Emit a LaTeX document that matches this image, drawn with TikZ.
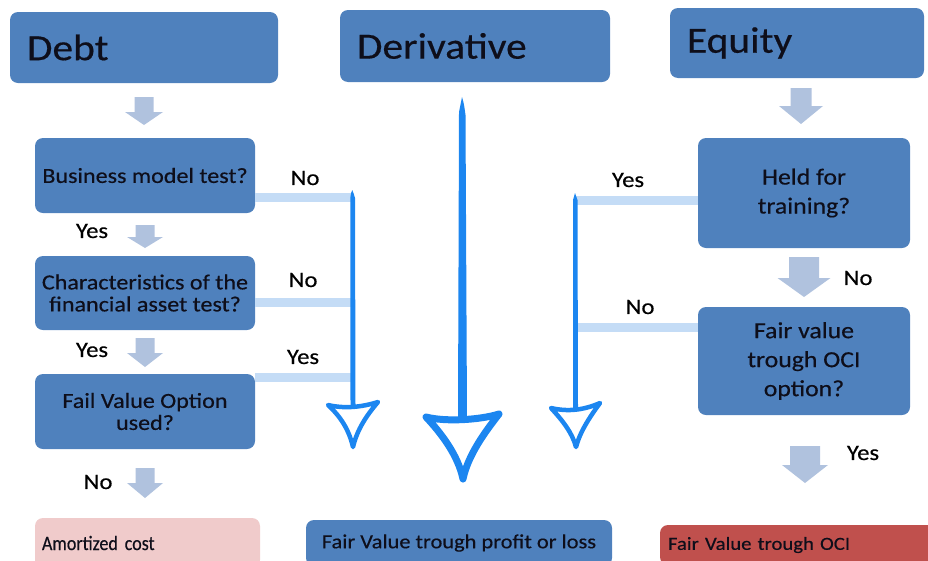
\documentclass[tikz,border=0pt]{standalone}
\usepackage{fontspec}
\setmainfont{Carlito}[FakeStretch=1.12,FakeBold=0.4]
\newfontfamily\narrowfont{Carlito}[FakeStretch=0.88,FakeBold=0.4]
\definecolor{boxblue}{HTML}{4F81BD}
\definecolor{boxtext}{HTML}{0E0E1A}
\definecolor{fatc}{HTML}{B0C2DE}
\definecolor{lineblue}{HTML}{C4DCF6}
\definecolor{arrblue}{HTML}{1C86F0}
\definecolor{pinkbox}{HTML}{F0CBCB}
\definecolor{redbox}{HTML}{C0504D}
% x, top, head start, tip, shaft half width, head half width
\newcommand\fatdown[6]{%
  \fill[fatc] ({#1-#5},#2) -- ({#1+#5},#2) -- ({#1+#5},#3) -- ({#1+#6},#3)
    -- (#1,#4) -- ({#1-#6},#3) -- ({#1-#5},#3) -- cycle;}
\tikzset{
  box/.style={fill=boxblue, rounded corners=8pt, draw=none, text=boxtext,
    align=center, inner sep=0pt},
  head/.style={box, align=left, font=\fontsize{37}{40}\selectfont},
  qbox/.style={box, font=\fontsize{21.5}{24}\selectfont, minimum width=220pt, minimum height=75pt},
  rbox/.style={box, font=\fontsize{23}{29}\selectfont, minimum width=212pt},
  lab/.style={text=black, font=\fontsize{22}{24}\selectfont, inner sep=0pt},
  conn/.style={draw=lineblue, line width=9pt},
  sketch/.style={draw=arrblue, line join=round, line cap=round},
}
\begin{document}
\begin{tikzpicture}[x=1pt,y=-1pt]
\useasboundingbox (0,0) rectangle (928,560);
% headings
\node[head, minimum width=268pt, minimum height=71pt, text width=234pt] (debt) at (144,47.5) {Debt};
\node[head, minimum width=270pt, minimum height=72pt, text width=236pt] (deriv) at (475,46) {Derivative};
\node[head, minimum width=254pt, minimum height=70pt, text width=220pt] (equity) at (797,43) {Equity};
% debt column
\node[qbox] (bm) at (145,175.5) {Business model test?};
\node[qbox, minimum height=74pt] (char) at (145,293) {Characteristics of the\\[-2pt]financial asset test?};
\node[qbox] (fvo) at (145,411.5) {Fail Value Option\\[-2pt]used?};
\node[box, fill=pinkbox, minimum width=225pt, minimum height=50pt, text width=211pt, align=left,
  font=\narrowfont\fontsize{20.5}{22}\selectfont] (amort) at (147.5,543) {Amortized cost};
% derivative result
\node[box, minimum width=306pt, minimum height=46pt, font=\fontsize{20}{22}\selectfont] (fvpl) at (459,543) {Fair Value trough profit or loss};
% equity column
\node[rbox, minimum height=110pt] (held) at (804,193) {Held for\\training?};
\node[rbox, minimum height=108pt] (oci) at (804,361) {Fair value\\trough OCI\\option?};
\node[box, fill=redbox, minimum width=275pt, minimum height=40pt, text width=259pt, align=left,
  font=\fontsize{18.5}{21}\selectfont] (fvoci) at (797.5,545) {Fair Value trough OCI};
% fat arrows
\fatdown{144}{97}{112}{125}{9.5}{19}
\fatdown{145}{225}{237}{248}{9.5}{18}
\fatdown{145}{338}{353}{367}{9.5}{18}
\fatdown{145}{468}{483}{498}{9.5}{18}
\fatdown{801}{88}{106}{124}{10.5}{22}
\fatdown{804}{257}{278}{297}{15}{26.5}
\fatdown{805}{446}{465}{483}{15}{23}
% junction coordinates
\coordinate (lj1) at (352,197);
\coordinate (lj2) at (352,302);
\coordinate (lj3) at (352,377);
\coordinate (rj1) at (575,200);
\coordinate (rj2) at (575,327);
% light connectors
\draw[conn] (bm.east |- lj1) -- (lj1);
\draw[conn] (char.east |- lj2) -- (lj2);
\draw[conn] (fvo.east |- lj3) -- (lj3);
\draw[conn] (rj1) -- (held.west |- rj1);
\draw[conn] (rj2) -- (oci.west |- rj2);
% labels
\node[lab] (l1) at (305,178) {No};
\node[lab] (l2) at (303,280) {No};
\node[lab] (l3) at (303,357) {Yes};
\node[lab] (l4) at (92,231) {Yes};
\node[lab] (l5) at (92,350) {Yes};
\node[lab] (l6) at (98,482) {No};
\node[lab] (l7) at (628,180) {Yes};
\node[lab] (l8) at (640,307) {No};
\node[lab] (l9) at (858,278) {No};
\node[lab] (l10) at (863,453) {Yes};
% sketchy blue arrows: left
\fill[arrblue] (350.3,198) .. controls (351,193) .. (352.2,190) .. controls (353.5,193) .. (355,198) -- (355.5,406) -- (350.5,406) -- cycle;
\draw[sketch, line width=4.5pt] (328,405) .. controls (345,409) and (362,407) .. (378,402)
  .. controls (366,416) and (357,430) .. (353,447) .. controls (349,430) and (341,417) .. cycle;
% middle
\fill[arrblue] (459,112) .. controls (460,104) .. (462,97) .. controls (464,104) .. (465.5,115) -- (467,418) -- (458,418) -- cycle;
\draw[sketch, line width=7pt] (426,417) .. controls (445,422) and (480,420) .. (499,414)
  .. controls (485,432) and (468,455) .. (463,479) .. controls (458,455) and (441,433) .. cycle;
% right
\fill[arrblue] (573,200) .. controls (573.5,196) .. (575,193) .. controls (576.5,196) .. (577.5,200) -- (578,408) -- (573,408) -- cycle;
\draw[sketch, line width=4.5pt] (551,408) .. controls (568,412) and (584,410) .. (600,403)
  .. controls (589,418) and (580,432) .. (576,447) .. controls (572,432) and (562,420) .. cycle;
\end{tikzpicture}
\end{document}
